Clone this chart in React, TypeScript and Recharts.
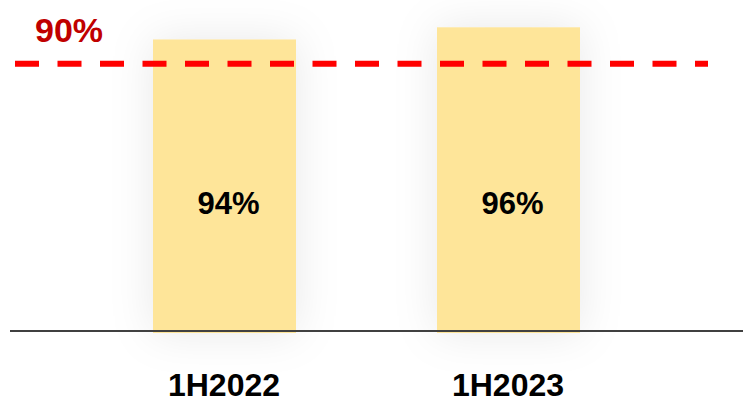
import { Bar, BarChart, LabelList, ReferenceLine, XAxis, YAxis } from "recharts"

const periods = ["1H2022", "1H2023"]
const rates = [94, 96]
const target = 90

const data = periods.map((name, i) => ({ name, value: rates[i] }))

const font = "'Liberation Sans', Arial, sans-serif"

const BarShape = (props: any) => {
  const { x, y, width, height } = props
  return <rect x={x} y={y} width={width} height={height + 2} fill="#FEE599" filter="url(#softShadow)" />
}

const CategoryTick = (props: any) => {
  const { x, y, payload } = props
  return (
    <text x={x} y={y + 57} textAnchor="middle" fill="#000" fontSize={32} fontWeight="bold" fontFamily={font}>
      {payload.value}
    </text>
  )
}

export default function App() {
  return (
    <div style={{ position: "absolute", left: 0, top: 0, background: "#fff" }}>
      <BarChart width={743} height={404} data={data} margin={{ top: 3, right: 0, bottom: 0, left: 10 }}>
        <defs>
          <filter id="softShadow" x="-60%" y="-20%" width="220%" height="140%">
            <feDropShadow dx="0" dy="0" stdDeviation="22" floodColor="#000" floodOpacity="0.09" />
          </filter>
        </defs>
        <YAxis hide domain={[46, 100]} />
        <XAxis
          dataKey="name"
          axisLine={{ stroke: "#404040", strokeWidth: 2 }}
          tickLine={false}
          padding={{ left: 72, right: 93 }}
          height={73}
          tick={<CategoryTick />}
        />
        <Bar dataKey="value" barSize={143} shape={<BarShape />} isAnimationActive={false}>
          <LabelList
            dataKey="value"
            position="insideBottom"
            offset={117}
            dx={4}
            formatter={(v: any) => `${v}%`}
            fill="#000"
            fontSize={31}
            fontWeight="bold"
            fontFamily={font}
          />
        </Bar>
        <ReferenceLine
          y={target}
          shape={(p: any) => (
            <line
              x1={p.x1 + 5}
              y1={p.y1}
              x2={p.x2 - 35}
              y2={p.y2}
              stroke="#FF0000"
              strokeWidth={6}
              strokeDasharray="24 18.5"
            />
          )}
          label={(p: any) => (
            <text
              x={p.viewBox.x + 25}
              y={p.viewBox.y - 22}
              fill="#C00000"
              fontSize={34}
              fontWeight="bold"
              fontFamily={font}
            >
              {`${target}%`}
            </text>
          )}
        />
      </BarChart>
    </div>
  )
}
